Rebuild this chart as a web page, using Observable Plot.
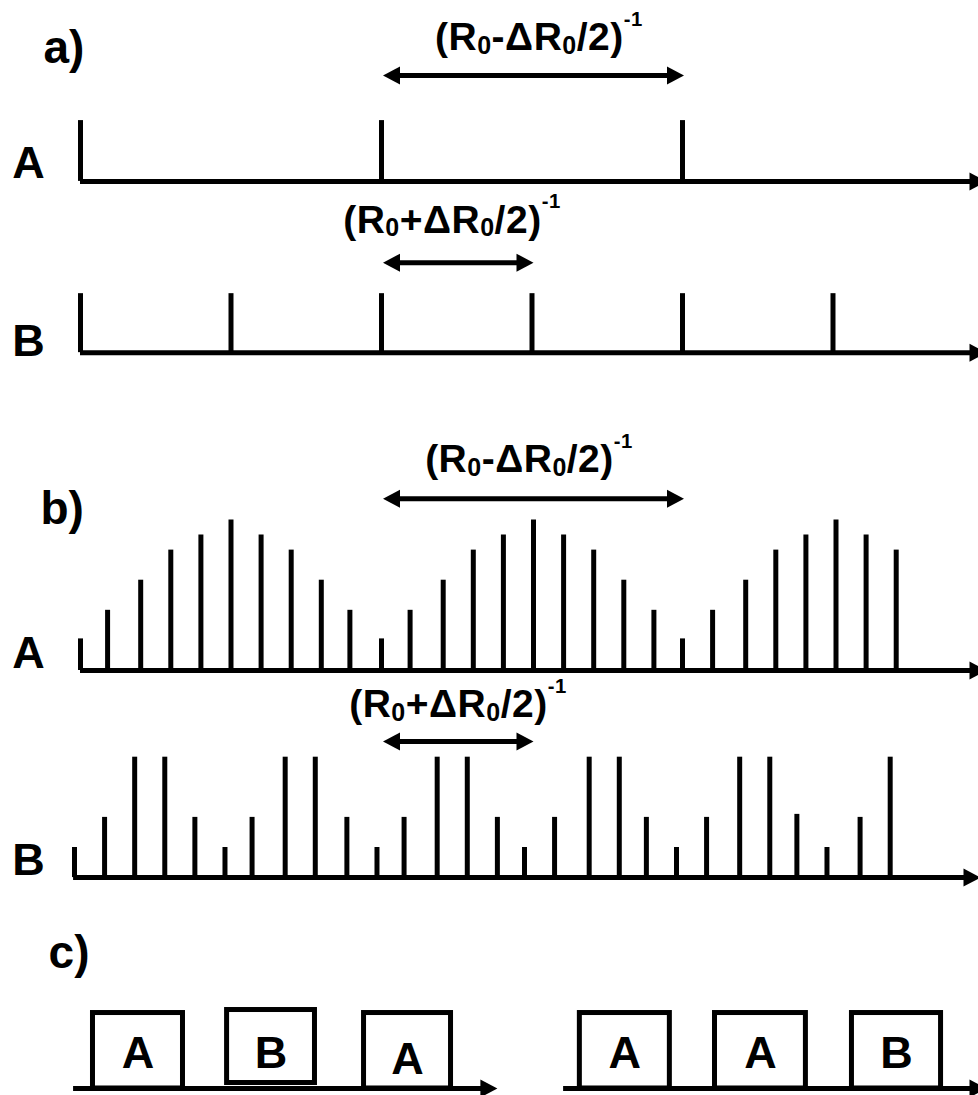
<!DOCTYPE html>
<html>
<head>
<meta charset="utf-8">
<script src="https://cdn.jsdelivr.net/npm/d3@7"></script>
<script src="https://cdn.jsdelivr.net/npm/@observablehq/plot@0.6"></script>
<style>
  html, body { margin: 0; padding: 0; background: #fff; }
  #chart svg { display: block; }
</style>
</head>
<body>
<div id="chart"></div>
<script>
// ---- Diagram data (units: one bar spacing; y measured upward) ----
// Axis rows: baseline level, start of axis line, arrow tip
const axisIds    = ["a-A", "a-B", "b-A", "b-B", "c-1", "c-2"];
const axisBase   = [30.37, 24.68, 14.12, 7.24, 0.233, 0.233];
const axisStart  = [0, 0, 0, -0.23, -0.23, 16.05];
const axisTip    = [30.1, 30.1, 30.1, 29.9, 13.85, 30.1];

// Panel a) : pulse trains
const aATimes = [0, 10, 20];
const aAHeight = 2.02;
const aBTimes = [0, 5, 10, 15, 20, 25];
const aBHeight = 1.96;

// Panel b) : modulated pulse trains
const bATimes   = [0, 0.9, 2, 3, 4, 5, 6, 7, 8, 8.95, 10, 10.95, 12.05, 13.05, 14.05, 15.05, 16.05, 17.05, 18.05, 19.05, 20, 21, 22.1, 23.1, 24.1, 25.1, 26.1, 27.1];
const bAHeights = [1.05, 2, 3, 4, 4.5, 5, 4.5, 4, 3, 2, 1.05, 2, 3, 4, 4.5, 5, 4.5, 4, 3, 2, 1.05, 2, 3, 4, 4.5, 5, 4.5, 4];
const bBTimes   = [-0.2, 0.8, 1.8, 2.8, 3.8, 4.8, 5.7, 6.8, 7.8, 8.85, 9.85, 10.75, 11.85, 12.85, 13.85, 14.75, 15.75, 16.9, 17.9, 18.8, 19.8, 20.8, 21.9, 22.9, 23.8, 24.8, 25.9, 26.9];
const bBHeights = [1, 2, 4, 4, 2, 1, 2, 4, 4, 2, 1, 2, 4, 4, 2, 1, 2, 4, 4, 2, 1, 2, 4, 4, 2.1, 1, 2, 4];

// Period annotations (double arrows + formula)
const periodLabels = ["(R_0-ΔR_0/2)^-1", "(R_0+ΔR_0/2)^-1", "(R_0-ΔR_0/2)^-1", "(R_0+ΔR_0/2)^-1"];
const periodFrom   = [10.05, 10.05, 10.05, 10.05];
const periodTo     = [20.05, 15.05, 20.05, 15.05];
const periodArrowY = [33.89, 27.67, 19.83, 11.76];
const periodTextX  = [15.23, 12.34, 14.9, 12.54];
const periodTextY  = [34.72, 28.67, 20.70, 12.56];

// Panel c) : blocks
const boxLabels = ["A", "B", "A", "A", "A", "B"];
const boxX1     = [0.415, 4.87, 9.42, 16.59, 21.08, 25.63];
const boxX2     = [3.405, 7.79, 12.31, 19.58, 24.10, 28.59];
const boxTop    = [2.74, 2.84, 2.74, 2.74, 2.74, 2.74];
const boxBottom = [0.233, 0.415, 0.233, 0.233, 0.233, 0.233];
const boxTextY  = [0.90, 0.93, 0.73, 0.93, 0.93, 0.93];

// Panel and row labels
const panelLabels = ["a)", "b)", "c)"];
const panelX      = [-1.23, -1.33, -1.06];
const panelY      = [34.29, 19.0, 4.22];
const rowLabels   = ["A", "B", "A", "B"];
const rowLabelX   = [-1.73, -1.73, -1.73, -1.73];
const rowLabelY   = [30.47, 24.58, 14.19, 7.31];

// ---- Tables built from the arrays ----
const axes = axisIds.map((id, i) => ({id, base: axisBase[i], start: axisStart[i], tip: axisTip[i]}));
const pulses = [
  ...aATimes.map(t => ({t, base: axisBase[0], h: aAHeight})),
  ...aBTimes.map(t => ({t, base: axisBase[1], h: aBHeight})),
  ...bATimes.map((t, i) => ({t, base: axisBase[2], h: bAHeights[i]})),
  ...bBTimes.map((t, i) => ({t, base: axisBase[3], h: bBHeights[i]}))
].map(d => ({...d, top: d.base + d.h}));
const periods = periodLabels.map((label, i) => ({label, from: periodFrom[i], to: periodTo[i], ay: periodArrowY[i], tx: periodTextX[i], ty: periodTextY[i]}));
const boxes = boxLabels.map((label, i) => ({label, x1: boxX1[i], x2: boxX2[i], y1: boxBottom[i], y2: boxTop[i], ty: boxTextY[i]}));
const panels = panelLabels.map((label, i) => ({label, x: panelX[i], y: panelY[i]}));
const rowsL = rowLabels.map((label, i) => ({label, x: rowLabelX[i], y: rowLabelY[i]}));

// Filled arrowhead symbols (tip at the anchor point)
const headRight = {draw(ctx) { ctx.moveTo(0, 0); ctx.lineTo(-17, -9); ctx.lineTo(-17, 9); ctx.closePath(); }};
const headLeft  = {draw(ctx) { ctx.moveTo(0, 0); ctx.lineTo(17, -9); ctx.lineTo(17, 9); ctx.closePath(); }};

const FONT = "'Liberation Sans', Arial, Helvetica, sans-serif";
const FORMULA_SIZE = 39;
const SW = 5;

const svg = Plot.plot({
  width: 978,
  height: 1095,
  margin: 0,
  x: {domain: [0, 29.834], range: [80, 978], axis: null},
  y: {domain: [0, 36.38], range: [1095, 0], axis: null},
  style: {background: "white", fontFamily: FONT},
  marks: [
    // blocks of panel c
    Plot.rect(boxes, {x1: "x1", x2: "x2", y1: "y1", y2: "y2", fill: "white", stroke: "black", strokeWidth: SW}),
    // pulses
    Plot.ruleX(pulses, {x: "t", y1: "base", y2: "top", stroke: "black", strokeWidth: SW}),
    // time axes with arrowheads
    Plot.ruleY(axes, {y: "base", x1: "start", x2: "tip", stroke: "black", strokeWidth: SW, insetRight: 8}),
    Plot.dot(axes, {x: "tip", y: "base", symbol: headRight, fill: "black", stroke: "none"}),
    // period double arrows
    Plot.ruleY(periods, {y: "ay", x1: "from", x2: "to", stroke: "black", strokeWidth: SW, insetLeft: 8, insetRight: 8}),
    Plot.dot(periods, {x: "to", y: "ay", symbol: headRight, fill: "black", stroke: "none"}),
    Plot.dot(periods, {x: "from", y: "ay", symbol: headLeft, fill: "black", stroke: "none"}),
    // formulas
    Plot.text(periods, {x: "tx", y: "ty", text: "label", textAnchor: "middle", lineAnchor: "bottom",
      fontSize: FORMULA_SIZE, fontWeight: "bold", fill: "black", className: "formula"}),
    // labels
    Plot.text(panels, {x: "x", y: "y", text: "label", textAnchor: "start", lineAnchor: "bottom",
      fontSize: 46, fontWeight: "bold", fill: "black"}),
    Plot.text(rowsL, {x: "x", y: "y", text: "label", textAnchor: "middle", lineAnchor: "bottom",
      fontSize: 45, fontWeight: "bold", fill: "black"}),
    Plot.text(boxes, {x: d => (d.x1 + d.x2) / 2, y: "ty", text: "label", textAnchor: "middle", lineAnchor: "bottom",
      fontSize: 45, fontWeight: "bold", fill: "black"})
  ]
});

// Turn "_x" into subscripts and "^-1" into superscripts (real text, tspans)
const NS = "http://www.w3.org/2000/svg";
svg.querySelectorAll("text").forEach(t => {
  const s = t.textContent;
  if (!/[_^]/.test(s)) return;
  const F = FORMULA_SIZE;
  t.textContent = "";
  t.style.letterSpacing = "0.5px";
  let shift = 0;
  s.split(/(_[^_^]|\^-?\d+)/).filter(p => p).forEach(p => {
    const ts = document.createElementNS(NS, "tspan");
    let target = 0, size = F, txt = p;
    if (p[0] === "_") { target = 0.09 * F; size = 0.64 * F; txt = p.slice(1); }
    else if (p[0] === "^") { target = -0.62 * F; size = 0.52 * F; txt = p.slice(1); }
    ts.setAttribute("dy", (target - shift).toFixed(2));
    ts.setAttribute("font-size", size.toFixed(1));
    ts.textContent = txt;
    shift = target;
    t.appendChild(ts);
  });
});

document.getElementById("chart").appendChild(svg);
</script>
</body>
</html>
